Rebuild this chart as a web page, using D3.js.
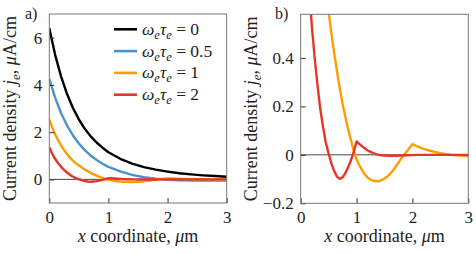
<!doctype html>
<html>
<head>
<meta charset="utf-8"/>
<style>
    html, body { margin: 0; padding: 0; background: #fff; }
    svg { display: block; }
    text { font-family: "Liberation Serif", "Times New Roman", serif; }
    .frame { fill: none; stroke: #777; stroke-width: 1; }
    .tick line { stroke: #333; }
    .tick text { font-size: 17px; fill: #222; }
</style>
<script src="https://cdn.jsdelivr.net/npm/d3@7"></script>
</head>
<body>
<svg id="chart" width="476" height="254"></svg>
<script>
// x coordinate (um) and current density j_e (uA/cm)
var xBlack = [0, 0.1, 0.2, 0.3, 0.4, 0.5, 0.6, 0.7, 0.8, 0.9, 1.0, 1.2, 1.4, 1.6, 1.8, 2.0, 2.2, 2.4, 2.6, 2.8, 3.0];
var jBlack = [6.4, 5.26, 4.35, 3.61, 3.02, 2.54, 2.14, 1.82, 1.56, 1.34, 1.15, 0.87, 0.67, 0.52, 0.41, 0.33, 0.26, 0.21, 0.17, 0.14, 0.11];

var xBlue = [0, 0.1, 0.2, 0.3, 0.4, 0.5, 0.6, 0.7, 0.8, 0.9, 1.0, 1.2, 1.4, 1.6, 1.8, 2.0, 2.2, 2.4, 2.6, 2.8, 3.0];
var jBlue = [4.25, 3.45, 2.80, 2.28, 1.86, 1.52, 1.24, 1.01, 0.82, 0.66, 0.53, 0.34, 0.19, 0.09, 0.025, -0.015, -0.035, -0.045, -0.05, -0.05, -0.048];

var xOrange = [0, 0.05, 0.1, 0.15, 0.2, 0.25, 0.3, 0.35, 0.4, 0.45, 0.5, 0.55, 0.6, 0.65, 0.7, 0.75, 0.8, 0.85, 0.9, 0.95,
    1.0, 1.05, 1.1, 1.15, 1.2, 1.25, 1.3, 1.35, 1.4, 1.45, 1.5, 1.55, 1.6, 1.65, 1.7, 1.75, 1.8, 1.85, 1.9, 1.95,
    2.0, 2.05, 2.1, 2.15, 2.2, 2.3, 2.4, 2.5, 2.6, 2.7, 2.8, 2.9, 3.0];
var jOrange = [2.53, 2.19, 1.90, 1.65, 1.43, 1.24, 1.07, 0.92, 0.79, 0.68, 0.59, 0.50, 0.42, 0.345, 0.275, 0.21, 0.155, 0.105, 0.06, 0.015,
    -0.018, -0.043, -0.064, -0.081, -0.094, -0.102, -0.107, -0.109, -0.108, -0.104, -0.098, -0.09, -0.079, -0.065, -0.049, -0.032, -0.015, 0.0, 0.014, 0.029,
    0.044, 0.039, 0.034, 0.029, 0.025, 0.018, 0.012, 0.007, 0.003, 0.0, -0.002, -0.004, -0.005];

var xRed = [0, 0.05, 0.1, 0.15, 0.2, 0.25, 0.3, 0.35, 0.4, 0.45, 0.5, 0.55, 0.6, 0.65, 0.7, 0.75, 0.8, 0.85, 0.9, 0.95,
    1.0, 1.05, 1.1, 1.15, 1.2, 1.25, 1.3, 1.35, 1.4, 1.45, 1.5, 1.6, 1.7, 1.8, 1.9, 2.0, 2.1, 2.5, 3.0];
var jRed = [1.36, 1.08, 0.86, 0.68, 0.53, 0.40, 0.29, 0.19, 0.115, 0.05, 0.005, -0.035, -0.068, -0.09, -0.099, -0.093, -0.075, -0.05, -0.022, 0.012,
    0.055, 0.045, 0.035, 0.026, 0.018, 0.012, 0.007, 0.003, 0.0, -0.002, -0.003, -0.004, -0.004, -0.003, -0.002, -0.001, 0.0, 0.0, 0.0];

var legendValues = ["0", "0.5", "1", "2"];
var seriesColors = ["#000000", "#4a92cc", "#ff9d00", "#e8352c"];

var xTicks = [0, 1, 2, 3];
var yTicksA = [0, 2, 4, 6];
var yTicksB = [-0.2, 0, 0.2, 0.4];

var series = [
    {x: xBlack, y: jBlack, color: seriesColors[0]},
    {x: xBlue, y: jBlue, color: seriesColors[1]},
    {x: xOrange, y: jOrange, color: seriesColors[2]},
    {x: xRed, y: jRed, color: seriesColors[3]}
];

var serif = "'Liberation Serif', 'Times New Roman', serif";
var svg = d3.select("#chart").attr("font-family", serif);

function drawPanel(opt) {
    var xs = d3.scaleLinear().domain([0, 3]).range([opt.left, opt.right]);
    var ys = d3.scaleLinear().domain(opt.yDomain).range([opt.bottom, opt.top]);
    var g = svg.append("g");

    g.append("clipPath").attr("id", "clip" + opt.id)
        .append("rect")
        .attr("x", opt.left).attr("y", opt.top)
        .attr("width", opt.right - opt.left).attr("height", opt.bottom - opt.top);

    // zero line
    g.append("line")
        .attr("x1", xs(0)).attr("x2", xs(3))
        .attr("y1", ys(0)).attr("y2", ys(0))
        .attr("stroke", "#333").attr("stroke-width", 0.9);

    var line = d3.line()
        .x(function(d) { return xs(d[0]); })
        .y(function(d) { return ys(d[1]); });

    var curves = g.append("g").attr("clip-path", "url(#clip" + opt.id + ")");
    opt.series.forEach(function(s) {
        curves.append("path")
            .datum(d3.zip(s.x, s.y))
            .attr("d", line)
            .attr("fill", "none")
            .attr("stroke", s.color)
            .attr("stroke-width", 2.4)
            .attr("stroke-linejoin", "round");
    });

    // axes with inward ticks
    var xAxis = d3.axisBottom(xs).tickValues(xTicks).tickSize(-5).tickPadding(8).tickFormat(d3.format("d"));
    var yAxis = d3.axisLeft(ys).tickValues(opt.yTicks).tickSize(-5).tickPadding(7)
        .tickFormat(function(d) { return d < 0 ? "\u2212" + Math.abs(d) : String(d); });
    var ga = g.append("g").attr("transform", "translate(0," + opt.bottom + ")").call(xAxis);
    var gb = g.append("g").attr("transform", "translate(" + opt.left + ",0)").call(yAxis);
    ga.attr("font-family", serif).attr("font-size", 17);
    gb.attr("font-family", serif).attr("font-size", 17);
    ga.select(".domain").remove();
    gb.select(".domain").remove();

    g.append("rect").attr("class", "frame")
        .attr("x", opt.left).attr("y", opt.top)
        .attr("width", opt.right - opt.left).attr("height", opt.bottom - opt.top);

    // x title
    var xt = g.append("text")
        .attr("x", (opt.left + opt.right) / 2).attr("y", 242)
        .attr("text-anchor", "middle").attr("font-size", 18).attr("fill", "#222");
    xt.append("tspan").attr("font-style", "italic").text("x");
    xt.append("tspan").text(" coordinate, ");
    xt.append("tspan").attr("font-style", "italic").text("\u03bc");
    xt.append("tspan").text("m");

    // y title
    var yt = g.append("text")
        .attr("transform", "translate(" + opt.yTitleX + "," + ((opt.top + opt.bottom) / 2) + ") rotate(-90)")
        .attr("text-anchor", "middle").attr("font-size", 18).attr("fill", "#222");
    yt.append("tspan").text("Current density ");
    yt.append("tspan").attr("font-style", "italic").text("j");
    yt.append("tspan").attr("font-style", "italic").attr("font-size", 13).attr("dy", 4).text("e");
    yt.append("tspan").attr("dy", -4).text(", ");
    yt.append("tspan").attr("font-style", "italic").text("\u03bc");
    yt.append("tspan").text("A/cm");

    g.append("text").attr("x", opt.labelX).attr("y", 19)
        .attr("font-size", 16).attr("fill", "#222").text(opt.label);

    return g;
}

drawPanel({id: "a", left: 49.3, right: 226.7, top: 14, bottom: 203, yDomain: [-1, 7],
    yTicks: yTicksA, series: series, yTitleX: 15.5, label: "a)", labelX: 25});
drawPanel({id: "b", left: 300.7, right: 468.3, top: 14.3, bottom: 203.3, yDomain: [-0.2, 0.58],
    yTicks: yTicksB, series: [series[2], series[3]], yTitleX: 257, label: "b)", labelX: 275});

// legend
var legend = svg.append("g");
legendValues.forEach(function(v, i) {
    var yy = 29.3 + i * 21.8;
    legend.append("line")
        .attr("x1", 114).attr("x2", 137).attr("y1", yy).attr("y2", yy)
        .attr("stroke", seriesColors[i]).attr("stroke-width", 2.6);
    var t = legend.append("text").attr("x", 142).attr("y", yy + 5.5)
        .attr("font-size", 17.5).attr("fill", "#222");
    t.append("tspan").attr("font-style", "italic").text("\u03c9");
    t.append("tspan").attr("font-style", "italic").attr("font-size", 12.5).attr("dy", 4).text("e");
    t.append("tspan").attr("font-style", "italic").attr("dy", -4).text("\u03c4");
    t.append("tspan").attr("font-style", "italic").attr("font-size", 12.5).attr("dy", 4).text("e");
    t.append("tspan").attr("dy", -4).text(" = " + v);
});
</script>
</body>
</html>
